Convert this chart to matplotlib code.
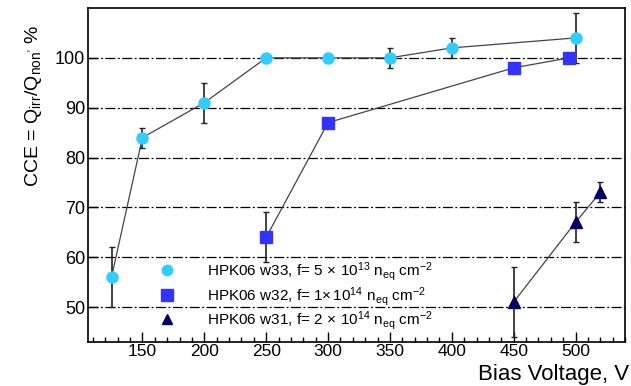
import matplotlib
matplotlib.use("Agg")
import matplotlib.pyplot as plt
from matplotlib.ticker import MultipleLocator

plt.rcParams['font.family'] = ['Liberation Sans', 'DejaVu Sans']
plt.rcParams['mathtext.fontset'] = 'custom'
plt.rcParams['mathtext.rm'] = 'Liberation Sans'
plt.rcParams['mathtext.it'] = 'Liberation Sans'

# w33, f = 5e13
v33 = [125, 150, 200, 250, 300, 350, 400, 500]
c33 = [56, 84, 91, 100, 100, 100, 102, 104]
e33 = [6, 2, 4, 0, 0, 2, 2, 5]
# w32, f = 1e14
v32 = [250, 300, 450, 495]
c32 = [64, 87, 98, 100]
e32 = [5, 0, 0, 0]
# w31, f = 2e14
v31 = [450, 500, 520]
c31 = [51, 67, 73]
e31 = [7, 4, 2]

labels = [r"HPK06 w33, f= 5$\,\times\,$10$^{13}$ n$_{\rm eq}$ cm$^{-2}$",
          r"HPK06 w32, f= 1$\times\,$10$^{14}$ n$_{\rm eq}$ cm$^{-2}$",
          r"HPK06 w31, f= 2$\,\times\,$10$^{14}$ n$_{\rm eq}$ cm$^{-2}$"]

fig = plt.figure(figsize=(6.31, 3.86), dpi=100)
ax = fig.add_axes([88/631, 1-342/386, (625-88)/631, (342-8)/386])

ax.set_xlim(106, 540)
ax.set_ylim(43, 110)

for y in [50, 60, 70, 80, 90, 100]:
    ax.axhline(y, color='black', lw=0.9, ls=(0, (8, 2, 1.5, 2)), zorder=1)

series = [(v33, c33, e33, 'o', '#33ccff', 8),
          (v32, c32, e32, 's', '#3333ff', 8),
          (v31, c31, e31, '^', '#000066', 8)]
leg_ms = [7.5, 9, 6.5]
handles = []
for (v, c, e, m, col, ms), lab, lms in zip(series, labels, leg_ms):
    ax.plot(v, c, color='#444444', lw=0.9, zorder=2)
    ax.errorbar(v, c, yerr=e, fmt='none', ecolor='#222222', elinewidth=1.2,
                capsize=2, capthick=1, zorder=3)
    ax.plot(v, c, ls='none', marker=m, ms=ms, color=col, mec=col, zorder=4)
    h, = ax.plot([], [], ls='none', marker=m, ms=lms, color=col, mec=col, label=lab)
    handles.append(h)

ax.legend(handles=handles, loc='lower left', bbox_to_anchor=(0.1, 0.0),
          frameon=False, fontsize=11, handletextpad=1.6, labelspacing=0.1,
          borderaxespad=0.25)

ax.xaxis.set_minor_locator(MultipleLocator(10))
ax.set_xticks([150, 200, 250, 300, 350, 400, 450, 500])
ax.set_yticks([50, 60, 70, 80, 90, 100])
ax.tick_params(which='both', direction='in', labelsize=13, top=False, right=False)
ax.tick_params(axis='x', labelsize=12.5, pad=1.5)
ax.tick_params(which='major', length=7, width=1)
ax.tick_params(which='minor', length=3.5, width=1)
ax.tick_params(axis='y', pad=2)
for s in ax.spines.values():
    s.set_linewidth(1.2)

fig.text(0.997, 0.003, "Bias Voltage, V", ha='right', va='bottom', fontsize=16)
fig.text(0.053, 1 - 106/386, r"CCE = Q$_{\rm irr}$/Q$_{\rm non'}$ %", rotation=90,
         ha='center', va='center', fontsize=14)

fig.savefig("out.png", dpi=100)
